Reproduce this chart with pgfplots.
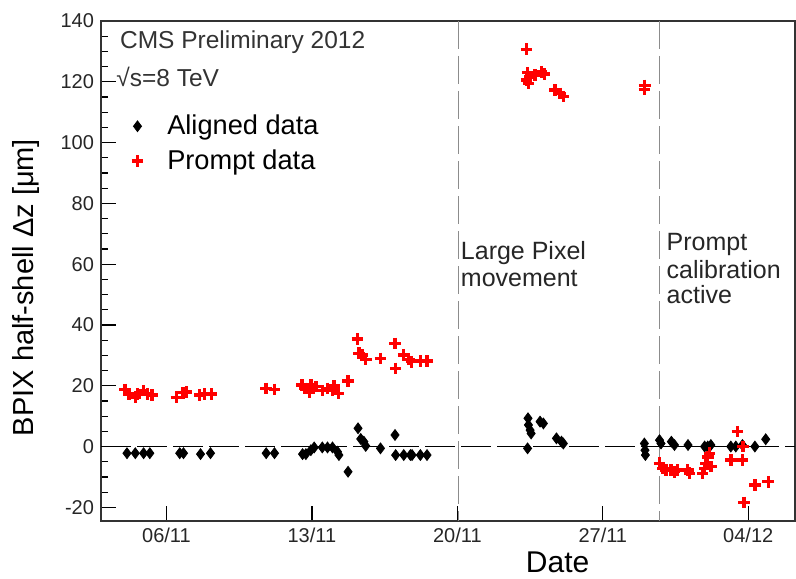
\documentclass[border=0pt]{standalone}
\usepackage{fontspec}
\setmainfont{Liberation Sans}
\usepackage{pgfplots}
\pgfplotsset{compat=1.18}
\usetikzlibrary{calc}
\begin{document}
\begin{tikzpicture}
\begin{axis}[
 name=ax,
 scale only axis, width=347pt, height=250pt,
 xmin=2.85, xmax=36.25, ymin=-24.5, ymax=140,
 xtick={6,13,20,27,34}, xticklabels={06/11,13/11,20/11,27/11,04/12},
 ytick={-20,0,20,40,60,80,100,120,140},
 yticklabels={-20,0,20,40,60,80,100,120,140},
 minor y tick num=3,
 tick align=inside, tick pos=left,
 major tick length=7.5pt, minor tick length=3.5pt,
 tick style={black, line width=0.6pt},
 axis line style={line width=0.75pt, black!80},
 ticklabel style={font=\fontsize{10}{12}\selectfont, text=black!85},
 /pgf/number format/assume math mode=true,
 xlabel={Date}, ylabel={BPIX half-shell Δz [μm]},
 xlabel style={at={(axis description cs:0.658,-0.082)}, anchor=center, font=\fontsize{15}{18}\selectfont},
 ylabel style={at={(axis description cs:-0.108,0.467)}, anchor=center, font=\fontsize{14.5}{17}\selectfont},
 legend style={at={(axis description cs:0.035,0.829)}, anchor=north west, draw=none, fill=none,
   font=\fontsize{13.6}{16}\selectfont, row sep=2pt,
   /tikz/every odd column/.append style={column sep=10pt}},
 legend cell align=left,
]
\addplot[forget plot, black, line width=0.6pt, dash pattern=on 15pt off 3pt] coordinates {(2.85,0)(36.25,0)};
\addplot[only marks, mark=diamond*, mark size=2.7pt, black] coordinates {
(4.1,-2.2)(4.5,-2.2)(4.9,-2.2)(5.2,-2.2)(6.64,-2.2)(6.82,-2.2)(7.64,-2.5)(8.12,-2.2)
(10.8,-2.2)(11.2,-2.2)(12.55,-2.5)(12.71,-2.5)(12.95,-1.2)(13.11,-0.3)(13.5,-0.3)
(13.75,-0.3)(13.99,-0.3)(14.23,-1.7)(14.3,-2.8)(14.74,-8.3)(15.22,6.0)(15.35,2.5)
(15.5,1.6)(15.59,0.2)(16.3,-0.6)(17.0,3.8)(17.03,-2.8)(17.42,-2.8)(17.74,-2.8)
(17.82,-2.8)(18.22,-2.8)(18.54,-2.8)(23.38,-0.6)(23.4,9.3)(23.42,7.1)(23.5,5.4)
(23.55,4.3)(23.98,8.2)(24.14,7.6)(24.77,2.7)(25.01,1.6)(25.1,1.0)(29.0,1.0)
(29.03,-1.2)(29.05,-2.8)(29.73,2.1)(29.8,1.0)(30.3,1.6)(30.45,0.5)(31.1,0.5)
(31.9,0)(32.05,0)(32.2,0.5)(33.16,0)(33.4,0)(33.72,0.5)(34.32,0)(34.84,2.4)
};
\addlegendentry{Aligned data}
\addplot[only marks, mark=+, mark size=2.9pt, red, mark options={line width=1.7pt}] coordinates {
(4.0,18.8)(4.2,17.3)(4.5,16.2)(4.6,17.3)(4.9,18.4)(5.1,17.3)(5.3,16.9)
(6.48,16.2)(6.8,17.7)(6.96,18.0)(7.6,16.9)(7.84,17.3)(8.16,17.3)
(10.8,19.1)(11.2,18.8)(12.52,20.2)(12.68,19.1)(12.87,18.0)(12.95,20.2)(13.03,19.1)
(13.19,19.7)(13.5,18.4)(13.75,19.1)(13.99,18.6)(14.07,19.9)(14.27,17.5)(14.74,21.5)
(15.19,35.4)(15.27,30.7)(15.43,30.1)(15.59,28.7)(16.3,29.0)(17.0,33.9)(17.03,25.7)
(17.42,30.1)(17.66,28.7)(17.79,27.9)(18.22,28.2)(18.54,28.2)
(23.33,130.7)(23.38,123.0)(23.33,120.6)(23.5,121.6)(23.42,119.5)(23.74,122.2)
(24.05,123.3)(24.2,122.5)(24.7,117.3)(24.94,116.2)(25.1,115.1)(29.0,117.5)(29.02,118.8)
(29.73,-5.5)(29.89,-7.2)(30.05,-7.7)(30.29,-7.7)(30.45,-8.3)(30.6,-7.7)(31.09,-7.7)
(31.17,-8.8)(31.8,-8.8)(31.9,-7.2)(31.97,-5.5)(32.05,-3.4)(32.13,-2.2)(32.2,-6.6)
(33.16,-4.4)(33.48,4.9)(33.72,-4.4)(33.75,0.0)(33.8,-18.4)(34.32,-12.7)(34.96,-11.6)
};
\addlegendentry{Prompt data}
\addplot[forget plot, black!45, line width=0.7pt, dash pattern=on 14pt off 3.5pt] coordinates {(20.05,140)(20.05,-24.5)};
\addplot[forget plot, black!45, line width=0.7pt, dash pattern=on 14pt off 3.5pt] coordinates {(29.73,140)(29.73,-24.5)};
\node[anchor=west, font=\fontsize{12.25}{14}\selectfont, text=black!80] at (axis description cs:0.0174,0.958) {CMS Preliminary 2012};
\node[anchor=west, font=\fontsize{12.25}{14}\selectfont, text=black!80] at (axis description cs:0.012,0.889) {√s=8 TeV};
\node[anchor=west, font=\fontsize{12.5}{14}\selectfont, text=black!85] at (axis description cs:0.5085,0.535) {Large Pixel};
\node[anchor=west, font=\fontsize{12.5}{14}\selectfont, text=black!85] at (axis description cs:0.5085,0.485) {movement};
\node[anchor=west, font=\fontsize{12.5}{14}\selectfont, text=black!85] at (axis description cs:0.805,0.553) {Prompt};
\node[anchor=west, font=\fontsize{12.5}{14}\selectfont, text=black!85] at (axis description cs:0.805,0.503) {calibration};
\node[anchor=west, font=\fontsize{12.5}{14}\selectfont, text=black!85] at (axis description cs:0.805,0.453) {active};
\end{axis}
\pgfresetboundingbox
\path ($(ax.south west)+(-50.5pt,-28.5pt)$) rectangle ($(ax.north east)+(0.5pt,10.5pt)$);
\end{tikzpicture}
\end{document}
